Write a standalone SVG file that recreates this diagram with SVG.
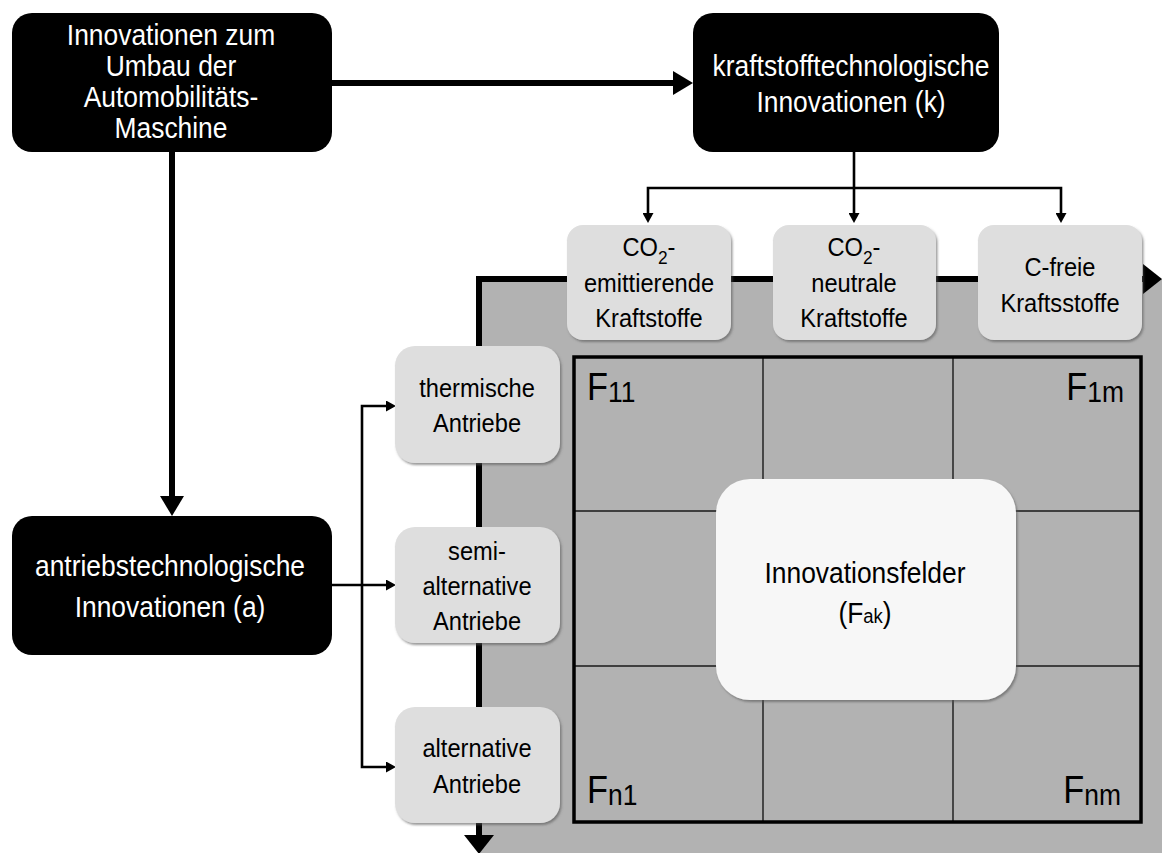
<svg xmlns="http://www.w3.org/2000/svg" width="1162" height="853" viewBox="0 0 1162 853">
<defs>
<style>
text{font-family:"Liberation Sans",Arial,sans-serif;text-anchor:middle}
.w{fill:#ffffff;font-size:30px}
.b{fill:#000000;font-size:26px}
.big{fill:#000000;font-size:30px}
.lab{fill:#000000;font-size:39px;text-anchor:start}
.dark{fill:#000000}
.light{fill:#dedede;filter:url(#sh)}
.thick{fill:none;stroke:#000;stroke-width:6}
.thin{fill:none;stroke:#000;stroke-width:2.6}
.grid{fill:none;stroke:#1a1a1a;stroke-width:1.4}
</style>
<filter id="sh" x="-10%" y="-10%" width="125%" height="125%">
<feDropShadow dx="1.5" dy="2" stdDeviation="1.2" flood-color="#555" flood-opacity="0.6"/>
</filter>
<marker id="ah" markerUnits="userSpaceOnUse" markerWidth="20" markerHeight="24" refX="0" refY="12" orient="auto-start-reverse"><path d="M0,0 L20,12 L0,24 Z" fill="#000"/></marker>
<marker id="ax" markerUnits="userSpaceOnUse" markerWidth="19" markerHeight="30" refX="0" refY="15" orient="auto-start-reverse"><path d="M0,0 L19,15 L0,30 Z" fill="#000"/></marker>
<marker id="as" markerUnits="userSpaceOnUse" markerWidth="10" markerHeight="11" refX="0" refY="5.5" orient="auto-start-reverse"><path d="M0,0 L10,5.5 L0,11 Z" fill="#000"/></marker>
</defs>
<rect width="1162" height="853" fill="#ffffff"/>
<rect x="479" y="279" width="683" height="574" fill="#b2b2b2"/>
<g id="axes">
<path class="thick" d="M479,835 L479,279 L1143,279" marker-start="url(#ax)" marker-end="url(#ax)"/>
</g>
<g id="matrix">
<path class="grid" d="M763,357 V822 M953,357 V822 M574,511 H1141 M574,666 H1141"/>
<rect x="574" y="357" width="567" height="465" fill="none" stroke="#000" stroke-width="3.5"/>
<text class="lab" x="587" y="400" transform="translate(587,0) scale(0.88,1) translate(-587,0)">F<tspan font-size="30" dy="2">11</tspan></text>
<text class="lab" x="1124" y="400" style="text-anchor:end" transform="translate(1124,0) scale(0.88,1) translate(-1124,0)">F<tspan font-size="30" dy="2">1m</tspan></text>
<text class="lab" x="587" y="803" transform="translate(587,0) scale(0.88,1) translate(-587,0)">F<tspan font-size="30" dy="2">n1</tspan></text>
<text class="lab" x="1121" y="803" style="text-anchor:end" transform="translate(1121,0) scale(0.88,1) translate(-1121,0)">F<tspan font-size="30" dy="2">nm</tspan></text>
</g>
<g id="innovationsfelder">
<rect x="716" y="479" width="300" height="221" rx="34" fill="#f7f7f7" filter="url(#sh)"/>
<g transform="translate(865,0) scale(0.88,1)">
<text class="big" x="0" y="583">Innovationsfelder</text>
<text class="big" x="0" y="623">(F<tspan font-size="21">ak</tspan>)</text>
</g>
</g>
<g id="connectors">
<path class="thick" d="M332,83 H673" marker-end="url(#ah)"/>
<path class="thick" d="M172,152 V496" marker-end="url(#ah)"/>
<path class="thin" d="M854,152 V213" marker-end="url(#as)"/>
<path class="thin" d="M648,213 V188 H1061 V213" marker-start="url(#as)" marker-end="url(#as)"/>
<path class="thin" d="M332,585 H386" marker-end="url(#as)"/>
<path class="thin" d="M386,406 H362 V767 H386" marker-start="url(#as)" marker-end="url(#as)"/>
</g>
<g id="node-umbau">
<rect class="dark" x="12" y="13" width="320" height="139" rx="20"/>
<g transform="translate(171,0) scale(0.88,1)">
<text class="w" x="0" y="45">Innovationen zum</text>
<text class="w" x="0" y="76">Umbau der</text>
<text class="w" x="0" y="107">Automobilitäts-</text>
<text class="w" x="0" y="138">Maschine</text>
</g>
</g>
<g id="node-kraftstoff">
<rect class="dark" x="693" y="13" width="306" height="139" rx="20"/>
<g transform="translate(851,0) scale(0.88,1)">
<text class="w" x="0" y="76">kraftstofftechnologische</text>
<text class="w" x="0" y="112">Innovationen (k)</text>
</g>
</g>
<g id="node-antrieb">
<rect class="dark" x="12" y="516" width="320" height="139" rx="20"/>
<g transform="translate(170,0) scale(0.88,1)">
<text class="w" x="0" y="576">antriebstechnologische</text>
<text class="w" x="0" y="617">Innovationen (a)</text>
</g>
</g>
<g id="node-co2-emittierend">
<rect class="light" x="567" y="225" width="164" height="115" rx="16"/>
<g transform="translate(649,0) scale(0.91,1)">
<text class="b" x="0" y="256">CO<tspan font-size="19" dy="8">2</tspan><tspan dy="-8">-</tspan></text>
<text class="b" x="0" y="292">emittierende</text>
<text class="b" x="0" y="327">Kraftstoffe</text>
</g>
</g>
<g id="node-co2-neutral">
<rect class="light" x="773" y="225" width="163" height="115" rx="16"/>
<g transform="translate(854,0) scale(0.91,1)">
<text class="b" x="0" y="256">CO<tspan font-size="19" dy="8">2</tspan><tspan dy="-8">-</tspan></text>
<text class="b" x="0" y="292">neutrale</text>
<text class="b" x="0" y="327">Kraftstoffe</text>
</g>
</g>
<g id="node-c-frei">
<rect class="light" x="978" y="225" width="164" height="115" rx="16"/>
<g transform="translate(1060,0) scale(0.91,1)">
<text class="b" x="0" y="276">C-freie</text>
<text class="b" x="0" y="312">Kraftsstoffe</text>
</g>
</g>
<g id="node-thermisch">
<rect class="light" x="395" y="346" width="165" height="117" rx="20"/>
<g transform="translate(477,0) scale(0.91,1)">
<text class="b" x="0" y="397">thermische</text>
<text class="b" x="0" y="432">Antriebe</text>
</g>
</g>
<g id="node-semi">
<rect class="light" x="395" y="527" width="165" height="116" rx="20"/>
<g transform="translate(477,0) scale(0.91,1)">
<text class="b" x="0" y="560">semi-</text>
<text class="b" x="0" y="595">alternative</text>
<text class="b" x="0" y="630">Antriebe</text>
</g>
</g>
<g id="node-alternativ">
<rect class="light" x="395" y="707" width="165" height="116" rx="20"/>
<g transform="translate(477,0) scale(0.91,1)">
<text class="b" x="0" y="757">alternative</text>
<text class="b" x="0" y="793">Antriebe</text>
</g>
</g>
</svg>
